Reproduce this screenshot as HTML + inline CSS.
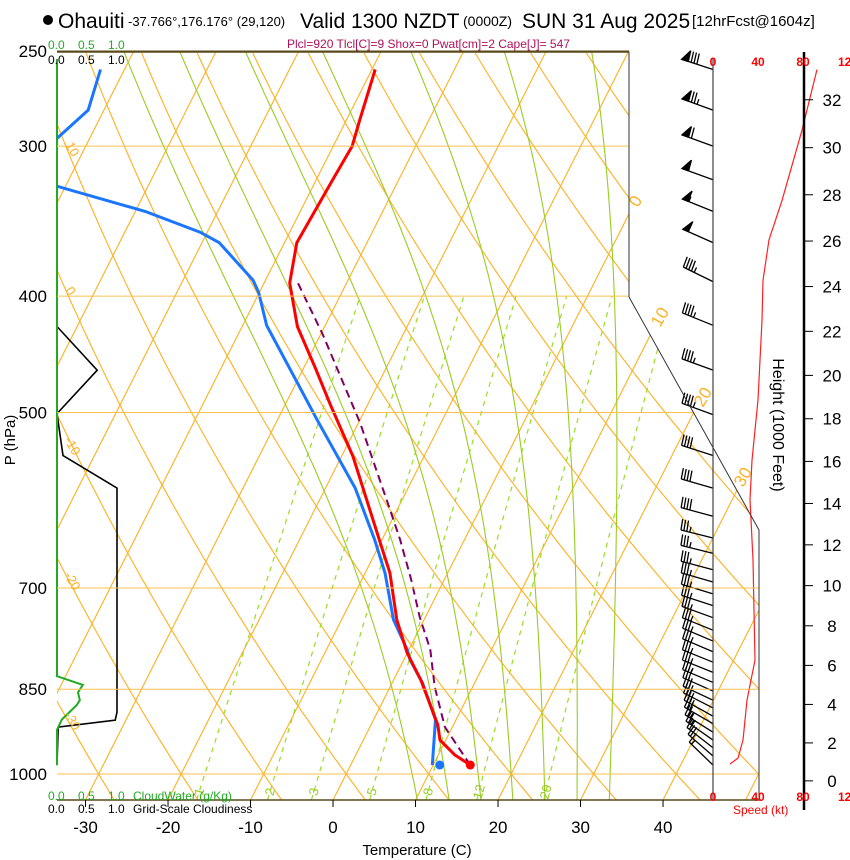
<!DOCTYPE html>
<html><head><meta charset="utf-8"><style>
body{margin:0;background:#fff;}
svg{display:block;font-family:"Liberation Sans",sans-serif;}
</style></head><body>
<svg id="chart" width="850" height="860" viewBox="0 0 850 860" xmlns="http://www.w3.org/2000/svg">
<defs><clipPath id="plotclip"><polygon points="57,52 629,52 629,297 759,530 759,800 57,800"/></clipPath>
<clipPath id="leftclip"><rect x="57" y="40" width="720" height="770"/></clipPath></defs>
<g id="bg" clip-path="url(#plotclip)"></g>
<g id="series"></g>
<g id="axes"></g>
<g>
<circle cx="48" cy="20" r="5" fill="#000"/>
<text x="58" y="28" font-size="21">Ohauiti</text>
<text x="128" y="26" font-size="13">-37.766°,176.176° (29,120)</text>
<text x="300" y="28" font-size="21">Valid 1300 NZDT</text>
<text x="463" y="26" font-size="14">(0000Z)</text>
<text x="522" y="28" font-size="21">SUN 31 Aug 2025</text>
<text x="692" y="26" font-size="15">[12hrFcst@1604z]</text>
<text x="287" y="48" font-size="12" fill="#b0105a">Plcl=920 Tlcl[C]=9 Shox=0 Pwat[cm]=2 Cape[J]= 547</text>
</g>
</svg>
<script>
// ---- data ----
const tempP = [983,964,937,910,835,793,744,680,642,544,491,459,424,390,361,320,300,285,259];
const tempT = [14.5,12.0,9.3,8.1,3.3,0.0,-3.3,-7.0,-10.0,-18.6,-24.7,-28.6,-33.3,-36.9,-38.5,-38.0,-37.7,-38.4,-39.6];
const dewP = [983,901,840,804,788,744,680,638,578,507,472,423,397,388,361,354,340,324,308,296,280,259];
const dewT = [9.9,7.5,3.7,0.8,-0.2,-3.7,-7.6,-10.9,-16.4,-25.2,-29.9,-37.1,-40.1,-41.5,-47.9,-50.8,-58.8,-71.0,-77.1,-74.0,-71.9,-72.9];
const parcelP = [983,914,846,788,740,689,638,603,510,430,390];
const parcelT = [14.5,9.1,5.4,2.6,-0.7,-4.0,-7.8,-10.8,-19.8,-29.8,-35.9];
const sfcP = 983, sfcT = 14.5, sfcTd = 10.8;
const cloudP = [424,461,501,543,578,888,902,914,983];
const cloudFrac = [0,0.67,0,0.1,1.0,1.0,0.97,0.02,0];
const cwP = [254,829,843,855,868,876,901,919,983];
const cwVal = [0,0,0.43,0.35,0.38,0.33,0.08,0,0];
const spdP = [981,970,937,868,835,804,663,591,548,488,419,388,359,333,291,259];
const spdVal = [15.1,22.2,26.7,30.2,33.8,37.3,35.6,32.9,34.7,40,43.6,44.4,49.8,61.3,79.1,92.4];
const windP = [259,280,300,320,340,361,389,423,461,502,543,578,610,636,655,676,692,708,724,741,759,775,791,807,823,839,853,868,881,895,908,923,937,951,966,983];
const windDir = [288,290,290,290,292,294,296,292,290,290,288,286,285,284,284,285,286,287,288,290,292,293,293,292,292,293,294,295,297,299,300,302,305,308,311,314];
const windSpd = [90,85,70,60,55,50,45,45,45,45,40,40,40,35,35,35,35,35,35,35,35,35,35,35,35,35,30,30,30,30,28,25,25,22,20,15];
const pLevels = [250,300,400,500,700,850,1000];
const tTicks = [-30,-20,-10,0,10,20,30,40];
const isoT = [-120,-110,-100,-90,-80,-70,-60,-50,-40,-30,-20,-10,0,10,20,30,40,50];
const thetas = [-40,-30,-20,-10,0,10,20,30,40,50,60,70,80,90,100,110,120,130,140,150,160,170,180];
const wLines = [1,2,3,5,8,12,20];
const moistW = [8,12,16,20,24,28,32];
const hTicks = [0,2,4,6,8,10,12,14,16,18,20,22,24,26,28,30,32];
const spdTicks = [0,40,80,120];

// ---- scales ----
const Y = p => 774 - 521.5*Math.log(1000/p);
const X = (T,p) => 333 + 8.25*T + 0.505*(800 - Y(p));
const cX = c => 57 + 60*c;
const sX = s => 713 + 1.125*s;
const NS = 'http://www.w3.org/2000/svg';
function mk(tag, parent, attrs){const e=document.createElementNS(NS,tag);for(const k in attrs)e.setAttribute(k,attrs[k]);parent.appendChild(e);return e;}
const bg=document.getElementById('bg'), ser=document.getElementById('series'), ax=document.getElementById('axes');
const ptsStr = a => a.map(q=>q[0].toFixed(1)+','+q[1].toFixed(1)).join(' ');

// pressure lines
const plX = {250:629,300:629,400:629,500:694,700:759,850:759,1000:759};
pLevels.forEach(p=>{
  const l=mk('line',ax,{x1:57,x2:plX[p],y1:Y(p),y2:Y(p),stroke:p===250?'#5a4a1a':'#f8c050','stroke-width':1});
  
  
  const t=mk('text',ax,{x:47,y:Y(p)+6,'font-size':17,'text-anchor':'end'});
  t.textContent=p;
  
  
});
// isotherms
isoT.forEach(T=>{
  const l=mk('line',bg,{x1:X(T,1051),y1:800,x2:X(T,250),y2:Y(250),stroke:'#ffb020','stroke-width':1.1});
  
  
});
// dry adiabats
thetas.forEach(th=>{
  const pts=[];
  for(let p=1051;p>=245;p-=10){const T=(th+273.15)*Math.pow(p/1000,0.2857)-273.15;pts.push([X(T,p),Y(p)]);}
  const l=mk('polyline',bg,{points:ptsStr(pts),fill:'none',stroke:'#ffb020','stroke-width':1.1});
  
  
});
// mixing ratio lines
function tdFromW(w,p){const e=w*p/(622+w);const L=Math.log(e/6.112);return 243.5*L/(17.67-L);}
wLines.forEach(w=>{
  const pts=[];
  for(let p=1051;p>=400;p-=10)pts.push([X(tdFromW(w,p),p),Y(p)]);
  pts.push([X(tdFromW(w,400),400),Y(400)]);
  const l=mk('polyline',bg,{points:ptsStr(pts),fill:'none',stroke:'#99dd22','stroke-width':1.2,'stroke-dasharray':'5,5'});
  
  
  const lx=X(tdFromW(w,1033),1033)+4, ly=Y(1033)+2;
  const t=mk('text',ax,{x:lx,y:ly,'font-size':13,fill:'#99cc22','text-anchor':'middle',transform:`rotate(-75 ${lx} ${ly})`});
  t.textContent=w;
  
  
});
// moist adiabats
function dTdp(T,p){const Tc=T-273.15;const es=6.112*Math.exp(17.67*Tc/(Tc+243.5));const rs=0.622*es/(p-es);
  const num=(287*T+2.5e6*rs)/p;const den=1005+2.5e6*2.5e6*rs*0.622/(287*T*T);return num/den;}
moistW.forEach(tw=>{
  const up=[],dn=[];let T=tw+273.15;
  for(let p=1000;p>=250;p-=5){up.push([X(T-273.15,p),Y(p)]);T-=dTdp(T,p)*5;}
  T=tw+273.15;for(let p=1000;p<=1055;p+=5){dn.push([X(T-273.15,p),Y(p)]);T+=dTdp(T,p)*5;}
  const pts=dn.reverse().concat(up);
  const l=mk('polyline',bg,{points:ptsStr(pts),fill:'none',stroke:'#99cc22','stroke-width':1.1});
  
  
});
// theta labels (left) and isotherm labels (right)
[[10,65,145],[0,65,290],[-10,64,440],[-20,64,575],[-30,64,715]].forEach(a=>{
  const t=mk('text',ax,{x:a[1],y:a[2],'font-size':13,fill:'#ffb020',transform:`rotate(60 ${a[1]} ${a[2]})`});
  t.textContent=a[0];
  
  
});
[[0,638,208],[10,660,328],[20,703,408],[30,743,488]].forEach(a=>{
  const t=mk('text',ax,{x:a[1],y:a[2],'font-size':17,fill:'#ffb020',transform:`rotate(-60 ${a[1]} ${a[2]})`});
  t.textContent=a[0];
  
  
});
// frame
const fr=mk('polyline',ax,{points:'57,52 629,52 629,297 759,530 759,800 57,800',fill:'none',stroke:'#333','stroke-width':1});


mk('line',ax,{x1:57,y1:800,x2:760,y2:800,stroke:'#5a4a1a','stroke-width':1.5});
mk('line',ax,{x1:57,y1:52,x2:629,y2:52,stroke:'#5a4a1a','stroke-width':1.5});
tTicks.forEach(T=>{
  const x=X(T,1051);
  const l=mk('line',ax,{x1:x,x2:x,y1:800,y2:807,stroke:'#000'});
  
  
  const t=mk('text',ax,{x:x,y:833,'font-size':17,'text-anchor':'middle'});
  t.textContent=T;
  
  
});
let tt=mk('text',ax,{x:417,y:855,'font-size':15,'text-anchor':'middle'});tt.textContent='Temperature (C)';

tt=mk('text',ax,{x:15,y:440,'font-size':15,'text-anchor':'middle',transform:'rotate(-90 15 440)'});tt.textContent='P (hPa)';

// cloud panel labels
function lab(txt,x,y,fs,fill,name,extra){const t=mk('text',ax,Object.assign({x:x,y:y,'font-size':fs,fill:fill},extra||{}));t.textContent=txt;return t;}
[['0.0',48],['0.5',78],['1.0',108]].forEach(a=>{lab(a[0],a[1],49,12,'#22aa22','cloudwater-scale-top');lab(a[0],a[1],64,12,'#000','cloudiness-scale-top');
  lab(a[0],a[1],800,12,'#22aa22','cloudwater-scale-bottom');lab(a[0],a[1],813,12,'#000','cloudiness-scale-bottom');});
lab('CloudWater (g/Kg)',133,800,12,'#22aa22','cloudwater-legend');
lab('Grid-Scale Cloudiness',133,813,12,'#000','cloudiness-legend');
// cloudiness & cloudwater profiles
let cp=[[cX(0),Y(254)]].concat(cloudP.map((p,i)=>[cX(cloudFrac[i]),Y(p)]));
let e=mk('polyline',ser,{points:ptsStr(cp),fill:'none',stroke:'#000','stroke-width':1.6});


e=mk('polyline',ser,{points:ptsStr(cwP.map((p,i)=>[cX(cwVal[i]),Y(p)])),fill:'none',stroke:'#22aa22','stroke-width':2});


// sounding lines
const sg=mk('g',ser,{'clip-path':'url(#leftclip)'});
e=mk('polyline',sg,{points:ptsStr(dewP.map((p,i)=>[X(dewT[i],p),Y(p)])),fill:'none',stroke:'#1a75ff','stroke-width':3,'stroke-linejoin':'round'});


e=mk('polyline',sg,{points:ptsStr(parcelP.map((p,i)=>[X(parcelT[i],p),Y(p)])),fill:'none',stroke:'#800060','stroke-width':2,'stroke-dasharray':'8,5'});


e=mk('polyline',sg,{points:ptsStr(tempP.map((p,i)=>[X(tempT[i],p),Y(p)])),fill:'none',stroke:'#ff0000','stroke-width':3,'stroke-linejoin':'round'});


e=mk('circle',ser,{cx:X(sfcT,sfcP),cy:Y(sfcP),r:4.5,fill:'#ff0000'});


e=mk('circle',ser,{cx:X(sfcTd,sfcP),cy:Y(sfcP),r:4.5,fill:'#1a75ff'});


// wind panel
e=mk('line',ax,{x1:713,y1:58,x2:713,y2:800,stroke:'#444','stroke-width':1.2});


e=mk('line',ax,{x1:804,y1:52,x2:804,y2:810,stroke:'#000','stroke-width':2.5});


spdTicks.forEach(s=>{
  lab(String(s),sX(s),66,12,'#ff0000','speed-label-top',{'text-anchor':'middle','font-weight':'bold'});
  lab(String(s),sX(s),801,12,'#ff0000','speed-label-bottom',{'text-anchor':'middle','font-weight':'bold'});
});
lab('Speed (kt)',733,814,12,'#ff0000','speed-axis-title');
e=mk('polyline',ser,{points:ptsStr(spdP.map((p,i)=>[sX(spdVal[i]),Y(p)])),fill:'none',stroke:'#ff2020','stroke-width':1.2});


hTicks.forEach(h=>{
  const zm=h*1000*0.3048;const p=1013.25*Math.pow(1-2.25577e-5*zm,5.25588);const y=Y(p);
  const l=mk('line',ax,{x1:804,x2:813,y1:y,y2:y,stroke:'#000'});
  
  
  lab(String(h),832,y+6,17,'#000','height-tick-label',{'text-anchor':'middle'});
});
lab('Height (1000 Feet)',773,425,16,'#000','height-axis-title',{'text-anchor':'middle',transform:'rotate(90 773 425)'});
// barbs
const bgp=mk('g',ser,{stroke:'#000','stroke-width':1.3,fill:'#000'});
windP.forEach((p,i)=>{
  const bx=713,by=Y(p),L=33,a=windDir[i]*Math.PI/180;
  const dx=Math.sin(a),dy=-Math.cos(a);
  const tx=bx+dx*L,ty=by+dy*L;
  const g=mk('g',bgp,{});
  
  
  mk('line',g,{x1:bx,y1:by,x2:tx,y2:ty});
  const px=-dy,py=dx; // perpendicular (upward)
  let s=Math.round(windSpd[i]/5)*5,pos=0;
  while(s>=50){const x0=tx-dx*pos,y0=ty-dy*pos;
    mk('polygon',g,{points:`${x0},${y0} ${x0-dx*6+px*11},${y0-dy*6+py*11} ${x0-dx*6},${y0-dy*6}`});pos+=7;s-=50;}
  while(s>=10){const x0=tx-dx*pos,y0=ty-dy*pos;mk('line',g,{x1:x0,y1:y0,x2:x0+px*11+dx*1,y2:y0+py*11+dy*1});pos+=3;s-=10;}
  if(s>=5){const x0=tx-dx*pos,y0=ty-dy*pos;mk('line',g,{x1:x0,y1:y0,x2:x0+px*5.5,y2:y0+py*5.5});}
});
</script>
</body></html>
